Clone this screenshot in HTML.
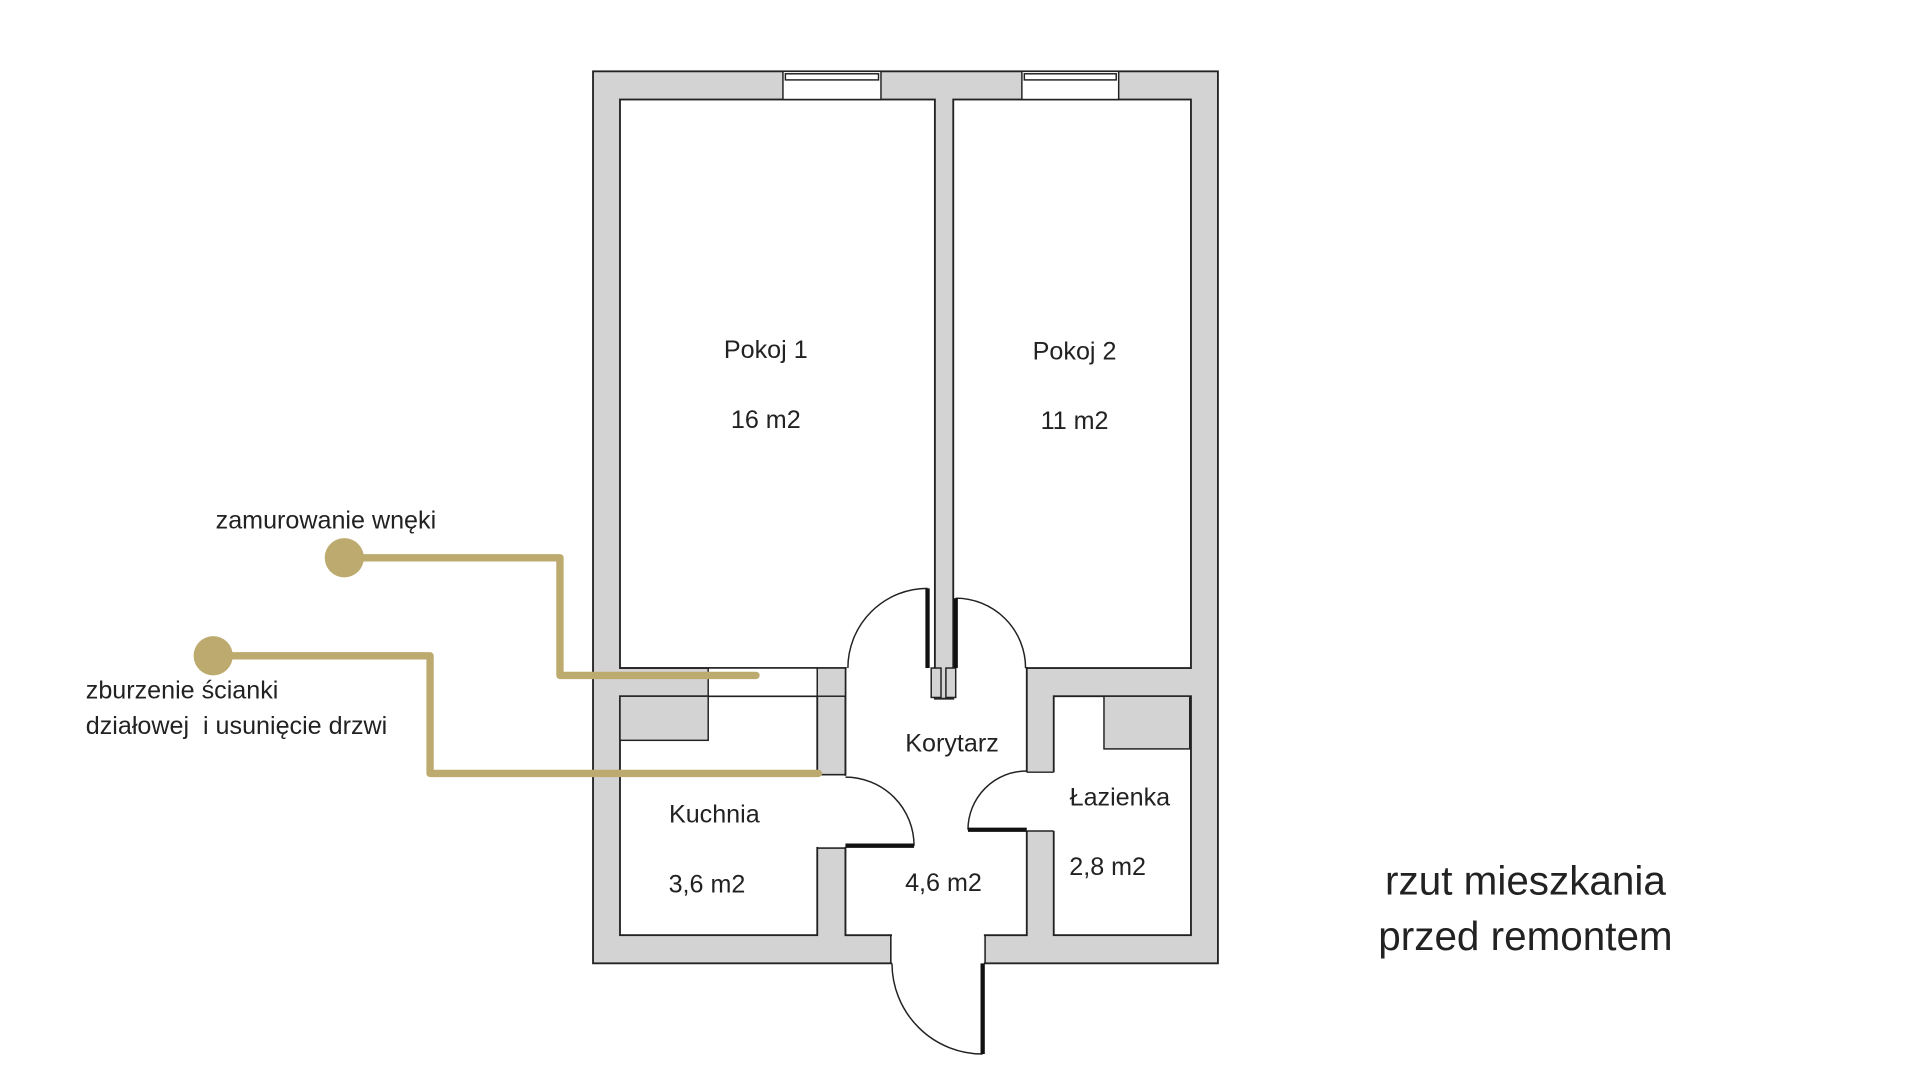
<!DOCTYPE html>
<html><head><meta charset="utf-8"><style>
html,body{margin:0;padding:0;background:#fff;width:1920px;height:1080px;overflow:hidden}
svg{display:block}
text{font-family:"Liberation Sans",sans-serif;fill:#222}
</style></head><body>
<svg width="1920" height="1080" viewBox="0 0 1567 881" xmlns="http://www.w3.org/2000/svg">
<g stroke="#222" stroke-width="1.5">
<rect x="484" y="58" width="510" height="728" fill="#d3d3d3"/>
<rect x="506" y="81" width="257" height="464" fill="#fff"/>
<rect x="778" y="81" width="194" height="464" fill="#fff"/>
<rect x="506" y="568" width="161" height="195" fill="#fff"/>
<rect x="860" y="568" width="112" height="195" fill="#fff"/>
<polygon points="690,545 763,545 763,570 778,570 778,545 838,545 838,763 690,763" fill="#fff"/>
</g>
<g fill="#fff">
<rect x="691" y="544" width="71" height="3"/>
<rect x="779" y="544" width="58" height="3"/>
<rect x="665" y="633" width="27" height="58"/>
<rect x="836" y="630" width="27" height="48"/>
<rect x="728" y="761" width="75" height="26"/>
<rect x="578" y="545" width="89" height="23"/>
<rect x="639" y="58" width="80" height="23"/>
<rect x="834" y="58" width="79" height="23"/>
</g>
<g stroke="#222" stroke-width="1.2" fill="none">
<line x1="506" y1="545" x2="667" y2="545"/>
<line x1="506" y1="568" x2="667" y2="568"/>
<line x1="578" y1="545" x2="578" y2="568"/>
<line x1="667" y1="545" x2="667" y2="632"/>
<line x1="690" y1="545" x2="690" y2="632"/>
<line x1="667" y1="632" x2="690" y2="632"/>
<line x1="667" y1="692" x2="690" y2="692"/>
<line x1="667" y1="692" x2="667" y2="763"/>
<line x1="690" y1="692" x2="690" y2="763"/>
<line x1="838" y1="630" x2="860" y2="630"/>
<line x1="838" y1="678" x2="860" y2="678"/>
<line x1="838" y1="568" x2="838" y2="630"/>
<line x1="860" y1="568" x2="860" y2="630"/>
<line x1="838" y1="678" x2="838" y2="763"/>
<line x1="860" y1="678" x2="860" y2="763"/>
<line x1="727" y1="763" x2="727" y2="786"/>
<line x1="804" y1="763" x2="804" y2="786"/>
<rect x="639" y="58" width="80" height="23"/>
<rect x="834" y="58" width="79" height="23"/>
<rect x="641" y="60" width="76" height="5"/>
<rect x="836" y="60" width="75" height="5"/>
<path d="M757,480 A65,65 0 0 0 692,545"/>
<path d="M780,488 A57,57 0 0 1 837,545"/>
<path d="M690,634 A56,56 0 0 1 746,690"/>
<path d="M838,629 A48,48 0 0 0 790,677"/>
<path d="M728,786 A74,74 0 0 0 802,860"/>
</g>
<g fill="#d3d3d3" stroke="#222" stroke-width="1.2">
<rect x="506" y="568" width="72" height="36"/>
<rect x="901" y="568" width="70" height="43"/>
<rect x="667" y="545" width="23" height="23"/>
<rect x="760" y="545" width="8" height="24"/>
<rect x="772" y="545" width="8" height="24"/>
</g>
<g stroke="#111" stroke-width="3.5">
<line x1="757" y1="480" x2="757" y2="545"/>
<line x1="780" y1="488" x2="780" y2="545"/>
<line x1="690" y1="690" x2="746" y2="690"/>
<line x1="790" y1="677" x2="838" y2="677"/>
<line x1="802" y1="786" x2="802" y2="860"/>
</g>
<g stroke="#bcaa6e" stroke-width="6" fill="none" stroke-linejoin="round" stroke-linecap="round">
<path d="M281,455 H457 V551 H617"/>
<path d="M174,535 H351 V631 H668"/>
</g>
<circle cx="281" cy="455" r="16" fill="#bcaa6e"/>
<circle cx="174" cy="535" r="16" fill="#bcaa6e"/>
<g font-size="20.5" text-anchor="middle">
<text x="625" y="292">Pokoj 1</text>
<text x="625" y="349">16 m2</text>
<text x="877" y="293">Pokoj 2</text>
<text x="877" y="350">11 m2</text>
<text x="777" y="613">Korytarz</text>
<text x="583" y="671">Kuchnia</text>
<text x="577" y="728">3,6 m2</text>
<text x="770" y="727">4,6 m2</text>
<text x="914" y="657">Łazienka</text>
<text x="904" y="714">2,8 m2</text>
</g>
<g font-size="20.5">
<text x="176" y="431">zamurowanie wnęki</text>
<text x="70" y="570">zburzenie ścianki</text>
<text x="70" y="599" xml:space="preserve">działowej  i usunięcie drzwi</text>
</g>
<g font-size="33" text-anchor="middle">
<text x="1245" y="730">rzut mieszkania</text>
<text x="1245" y="775">przed remontem</text>
</g>
</svg>
</body></html>
